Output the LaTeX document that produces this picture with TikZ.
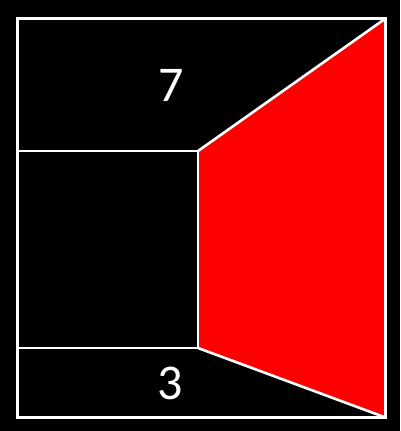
\documentclass[tikz,border=0pt]{standalone}
\usepackage{fontspec}
\setmainfont{Carlito}
\begin{document}
\begin{tikzpicture}[x=1pt,y=-1pt,
  edge/.style={draw=white,line width=2.6pt,line join=miter},
  lab/.style={text=white,font=\fontsize{50}{50}\selectfont,inner sep=0pt}]
\fill[black] (0,0) rectangle (400,431);
\useasboundingbox (0,0) rectangle (400,431);
\coordinate (TL) at (17.5,18.5);
\coordinate (TR) at (385.5,18.5);
\coordinate (BR) at (385.5,417.5);
\coordinate (BL) at (17.5,417.5);
\coordinate (A) at (17.5,151);
\coordinate (B) at (198,151);
\coordinate (C) at (198,348);
\coordinate (D) at (17.5,348);
\fill[red] (B) -- (TR) -- (BR) -- (C) -- cycle;
\draw[edge] (TL) -- (TR) -- (BR) -- (BL) -- cycle;
\draw[edge] (A) -- (B) -- (C) -- (D);
\draw[edge] (B) -- (TR);
\draw[edge] (C) -- (BR);
\node[lab] (seven) at (171,85) {7};
\node[lab] (three) at (170,383) {3};
\end{tikzpicture}
\end{document}
